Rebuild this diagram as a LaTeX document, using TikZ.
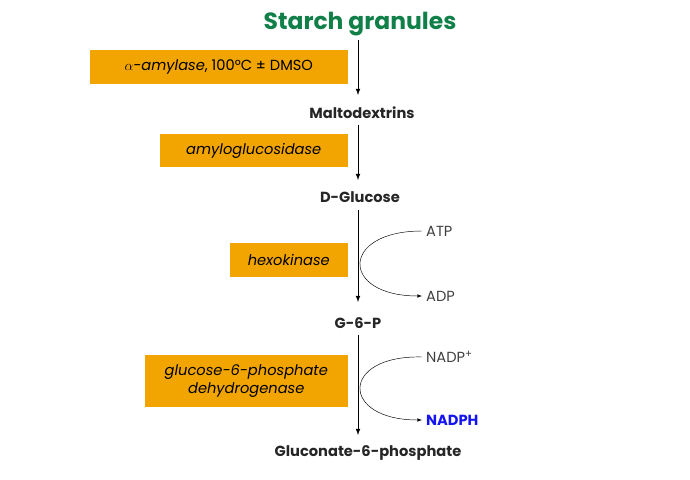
\documentclass[tikz,border=0pt]{standalone}
\usepackage{fontspec}
\setmainfont{Poppins}
\usetikzlibrary{positioning}
\definecolor{starchgreen}{RGB}{16,128,72}
\definecolor{enzyorange}{RGB}{242,165,0}
\definecolor{nadphblue}{RGB}{20,20,240}
\begin{document}
\begin{tikzpicture}[
        x=0.03cm, y=-0.03cm,
        metab/.style = {font=\fontsize{12.5}{14}\selectfont\bfseries, text=black!85}, % metabolites
        enzyme/.style = {fill=enzyorange, font=\fontsize{12.5}{15}\selectfont\itshape, align=center, inner xsep=4pt, anchor=east},
        side/.style = {font=\fontsize{12.5}{14}\selectfont, text=black!75, anchor=west},
        main/.style = {draw, thick, -latex},
        cofarrow/.style = {draw, -latex},
    ]
    \useasboundingbox (0,0) rectangle (690,480);

    \node[font=\fontsize{20}{22}\selectfont\bfseries, text=starchgreen] (starch) at (360,24) {Starch granules};
    \node[metab] (malto) at (362,113) {Maltodextrins};
    \node[metab] (glc) at (360,197) {D-Glucose};
    \node[metab] (g6p) at (358,323) {G-6-P};
    \node[metab] (gluc) at (368,453) {Gluconate-6-phosphate};

    \draw[main] (358,40) -- (358,95);
    \draw[main] (358,125) -- (358,180);
    \draw[main] (358,210) -- (358,302);
    \draw[main] (358,335) -- (358,435);

    % enzymes
    \node[enzyme, minimum width=258*0.03cm, minimum height=34*0.03cm] (amy) at (348,67) {$\alpha$-amylase{\upshape, 100°C ± DMSO}};
    \node[enzyme, minimum width=188*0.03cm, minimum height=33*0.03cm] (amg) at (348,151) {amyloglucosidase};
    \node[enzyme, minimum width=118*0.03cm, minimum height=34*0.03cm] (hk) at (348,260) {hexokinase};
    \node[enzyme, minimum width=203*0.03cm, minimum height=52*0.03cm] (gdh) at (348,381) {glucose-6-phosphate\\dehydrogenase};

    % cofactors
    \node[side] (atp) at (422,231) {ATP};
    \node[side] (adp) at (422,296) {ADP};
    \node[side] (nadp) at (422,357) {NADP\textsuperscript{+}};
    \node[side, text=nadphblue, font=\fontsize{12.5}{14}\selectfont\bfseries] (nadph) at (422,420) {NADPH};

    \draw[cofarrow] (atp.west) .. controls (340,231) and (340,296) .. (adp.west);
    \draw[cofarrow] (nadp.west) .. controls (340,355) and (340,420) .. (nadph.west);
\end{tikzpicture}
\end{document}
